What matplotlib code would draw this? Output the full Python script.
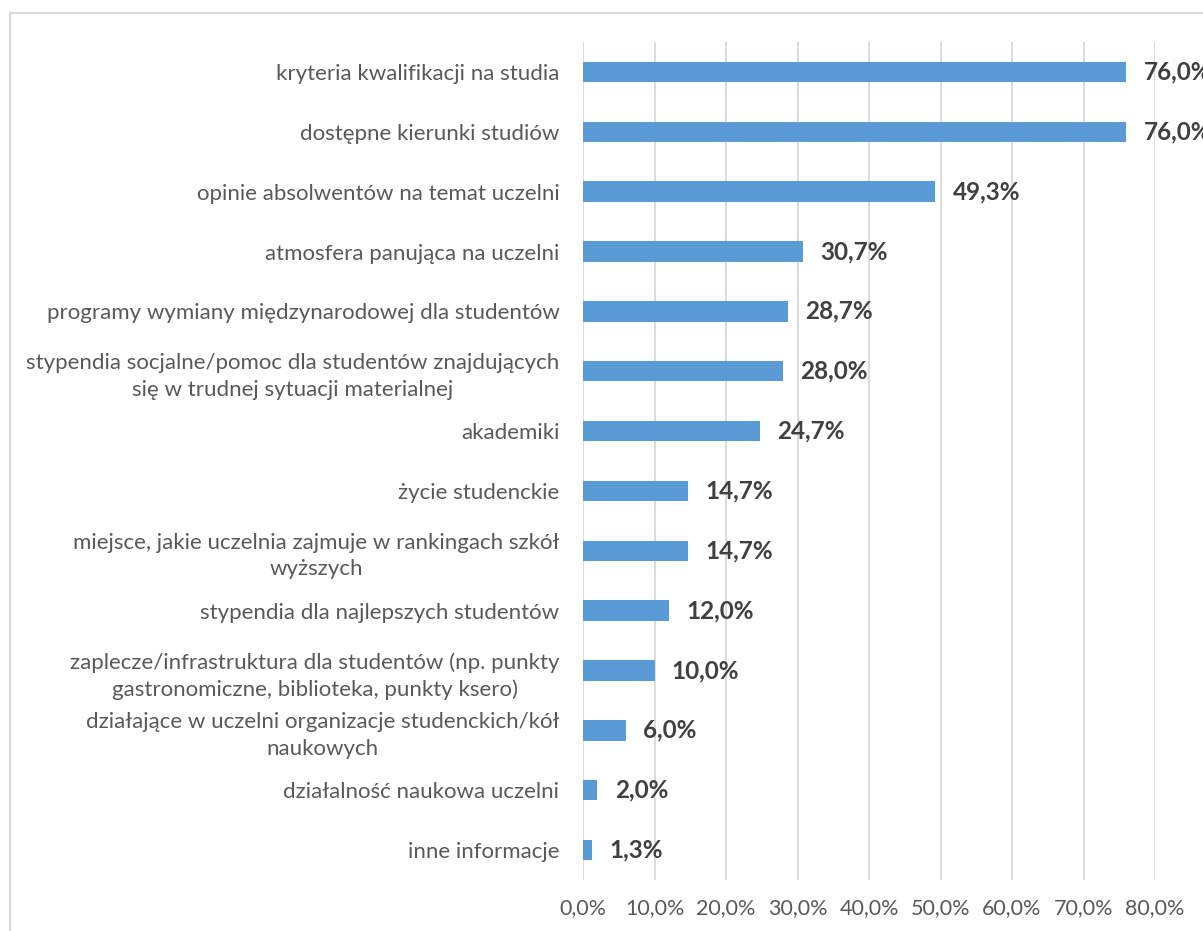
import matplotlib.pyplot as plt
from matplotlib.patches import Rectangle
from matplotlib.ticker import FuncFormatter

categories = [
    "kryteria kwalifikacji na studia",
    "dostępne kierunki studiów",
    "opinie absolwentów na temat uczelni",
    "atmosfera panująca na uczelni",
    "programy wymiany międzynarodowej dla studentów",
    "stypendia socjalne/pomoc dla studentów znajdujących\nsię w trudnej sytuacji materialnej",
    "akademiki",
    "życie studenckie",
    "miejsce, jakie uczelnia zajmuje w rankingach szkół\nwyższych",
    "stypendia dla najlepszych studentów",
    "zaplecze/infrastruktura dla studentów (np. punkty\ngastronomiczne, biblioteka, punkty ksero)",
    "działające w uczelni organizacje studenckich/kół\nnaukowych",
    "działalność naukowa uczelni",
    "inne informacje",
]
values = [76.0, 76.0, 49.3, 30.7, 28.7, 28.0, 24.7, 14.7, 14.7, 12.0, 10.0, 6.0, 2.0, 1.3]
ticks = [0, 10, 20, 30, 40, 50, 60, 70, 80]

plt.rcParams["font.family"] = ["Lato", "DejaVu Sans"]

fig = plt.figure(figsize=(12.03, 9.31), dpi=100)
ax = fig.add_axes([583 / 1203, 1 - 880 / 931, (1155 - 583) / 1203, (880 - 42) / 931])

ypos = list(range(len(categories)))
ax.barh(ypos, values, height=0.34, color="#5B9BD5", zorder=3)
ax.set_ylim(len(categories) - 0.5, -0.5)
ax.set_xlim(0, 80)

ax.set_xticks(ticks)
ax.xaxis.set_major_formatter(FuncFormatter(lambda v, p: f"{v:.1f}%".replace(".", ",")))
ax.set_yticks(ypos)
ax.set_yticklabels(categories, multialignment="center", linespacing=1.4)
ax.tick_params(axis="y", length=0, pad=17, labelsize=16, labelcolor="#595959")
ax.tick_params(axis="x", length=0, pad=13, labelsize=15.5, labelcolor="#595959")

ax.grid(axis="x", color="#D9D9D9", linewidth=1.3, zorder=0)
for s in ax.spines.values():
    s.set_visible(False)

for y, v in zip(ypos, values):
    ax.annotate(f"{v:.1f}%".replace(".", ","), (v, y), xytext=(12.5, 0),
                textcoords="offset points", va="center", ha="left",
                fontsize=17.5, fontweight="bold", color="#404040",
                annotation_clip=False)

fig.patches.append(Rectangle((10 / 1203, -0.1), 1.2, 1 - 13 / 931 + 0.1,
                             transform=fig.transFigure, fill=False,
                             edgecolor="#D9D9D9", linewidth=1.5))

fig.savefig("out.png", dpi=100)
